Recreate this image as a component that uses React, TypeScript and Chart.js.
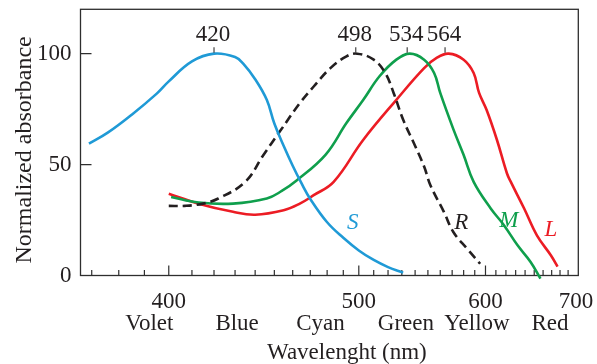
import React, { useEffect, useRef } from 'react';
import { Chart, registerables } from 'chart.js';

Chart.register(...registerables);

// ---- data (wavelength in nm, normalized absorbance) ----
const sWavelength = [369, 376, 385, 395, 400, 410, 420, 430, 434, 440, 446, 450, 455, 460, 465, 470, 480, 490, 500, 510, 520, 531];
const sAbsorbance = [59.4, 64.5, 72.5, 82.0, 87.5, 96.5, 100, 98.5, 95.5, 88.5, 79.2, 68.5, 58.5, 49.5, 41.5, 34.5, 24.0, 17.0, 11.3, 7.0, 3.8, 1.3];

const rWavelength = [400, 407, 415, 422, 435, 444, 453, 464, 472, 482, 492, 499, 510, 518, 524, 531, 539, 547, 552, 563, 571, 583, 595];
const rAbsorbance = [31.4, 31.4, 32.4, 34.7, 42.2, 54.0, 65.0, 77.7, 85.2, 93.5, 98.8, 100, 97.3, 91.3, 82.3, 70.2, 59.7, 49.1, 40.7, 28.7, 19.6, 12.1, 5.3];

const mWavelength = [401, 413, 429, 446, 454, 462, 479, 492, 503, 514, 526, 536, 547, 555, 560, 571, 580, 589, 605, 618, 632, 646, 657];
const mAbsorbance = [35.4, 32.9, 32.4, 34.7, 38.1, 42.7, 54.4, 68.7, 79.2, 89.8, 97.3, 100, 97.3, 91.3, 82.3, 66.0, 54.3, 42.2, 30.2, 22.7, 13.6, 6.1, -1.4];

const lWavelength = [400, 413, 429, 440, 455, 464, 472, 484, 503, 526, 547, 557, 567, 580, 589, 594, 601, 611, 621, 625, 639, 653, 669, 677];
const lAbsorbance = [36.9, 32.4, 28.7, 27.4, 29.4, 32.4, 36.2, 42.2, 61.2, 79.2, 93.5, 98.1, 100, 97.3, 91.3, 82.3, 74.7, 61.2, 46.1, 42.2, 30.2, 18.1, 9.1, 4.0];

// axis / annotation content
const xRangeNm = [366, 703];
const numberTickNm = [400, 500, 600, 700];
const minorTickNm = Array.from({ length: 33 }, (_, i) => 370 + i * 10);
const colourNames = ['Volet', 'Blue', 'Cyan', 'Green', 'Yellow', 'Red'];
const colourNm = [392, 431, 476, 533, 592, 668];
const yTicks = [0, 50, 100];
const peakNm = [420, 498, 534, 564];
const curveLetters = ['S', 'R', 'M', 'L'];
const letterNm = [496, 578, 623, 669];
const letterValue = [23.7, 23.7, 24.6, 20.5];
const xTitle = 'Wavelenght (nm)';
const yTitle = 'Normalized absorbance';

const BLUE = '#1f9ad6';
const BLACK = '#231f20';
const GREEN = '#0f9f4c';
const RED = '#ec1c24';
const letterColours = [BLUE, BLACK, GREEN, RED];
const TEXT = '#231f20';
const AXIS = '#2e2e2e';
const SERIF = "'Liberation Serif', 'Times New Roman', serif";

const inv = (nm: number) => 1000 / nm;
const toPoints = (w: number[], v: number[]) => w.map((nm, i) => ({ x: inv(nm), y: v[i] }));

const noPad = (s: any) => {
  s.paddingTop = 0;
  s.paddingBottom = 0;
  s.paddingLeft = 0;
  s.paddingRight = 0;
};

const overlay = {
  id: 'overlay',
  beforeDatasetsDraw(chart: any) {
    const { ctx, chartArea: a, scales } = chart;
    const xs = scales.x;
    const ys = scales.y;
    ctx.save();
    ctx.strokeStyle = AXIS;
    ctx.lineWidth = 1.3;
    ctx.strokeRect(a.left, a.top, a.right - a.left, a.bottom - a.top);
    ctx.lineWidth = 1.2;
    ctx.beginPath();
    minorTickNm.forEach((nm) => {
      const px = xs.getPixelForValue(inv(nm));
      const len = numberTickNm.includes(nm) ? 10 : 5.5;
      ctx.moveTo(px, a.bottom);
      ctx.lineTo(px, a.bottom - len);
    });
    yTicks.forEach((v) => {
      const py = ys.getPixelForValue(v);
      ctx.moveTo(a.left, py);
      ctx.lineTo(a.left + 11, py);
    });
    ctx.stroke();
    ctx.restore();
  },
  afterDraw(chart: any) {
    const { ctx, chartArea: a, scales } = chart;
    const xs = scales.x;
    const ys = scales.y;
    ctx.save();
    const y100 = ys.getPixelForValue(100);
    // peak markers & labels
    ctx.strokeStyle = '#444';
    ctx.lineWidth = 1.2;
    ctx.fillStyle = TEXT;
    ctx.font = `23px ${SERIF}`;
    ctx.textAlign = 'center';
    ctx.textBaseline = 'alphabetic';
    peakNm.forEach((nm) => {
      const px = xs.getPixelForValue(inv(nm));
      ctx.beginPath();
      ctx.moveTo(px, y100 - 6.5);
      ctx.lineTo(px, y100 - 1);
      ctx.stroke();
      ctx.fillText(String(nm), px - 1, y100 - 12.5);
    });
    // curve letters
    ctx.font = `italic 23px ${SERIF}`;
    ctx.textBaseline = 'middle';
    curveLetters.forEach((t, i) => {
      ctx.fillStyle = letterColours[i];
      ctx.fillText(t, xs.getPixelForValue(inv(letterNm[i])), ys.getPixelForValue(letterValue[i]));
    });
    // axis titles
    ctx.fillStyle = TEXT;
    ctx.font = `23px ${SERIF}`;
    ctx.textBaseline = 'alphabetic';
    ctx.fillText(xTitle, (a.left + a.right) / 2 + 17.5, 359);
    ctx.translate(31, (a.top + a.bottom) / 2 + 7.5);
    ctx.rotate(-Math.PI / 2);
    ctx.font = `24px ${SERIF}`;
    ctx.fillText(yTitle, 0, 0);
    ctx.restore();
  },
};

export default function App() {
  const ref = useRef<HTMLCanvasElement>(null);
  useEffect(() => {
    const lineDs = (label: string, w: number[], v: number[], color: string, dash: number[] = []) => ({
      label,
      data: toPoints(w, v),
      borderColor: color,
      borderWidth: 2.6,
      borderDash: dash,
      pointRadius: 0,
      fill: false,
      clip: false,
      tension: 0.4,
      xAxisID: 'x',
      yAxisID: 'y',
    });
    const tickFont = { family: SERIF, size: 23 };
    const chart = new Chart(ref.current as HTMLCanvasElement, {
      type: 'line',
      data: {
        datasets: [
          lineDs('S', sWavelength, sAbsorbance, BLUE),
          lineDs('R', rWavelength, rAbsorbance, BLACK, [9, 5]),
          lineDs('M', mWavelength, mAbsorbance, GREEN),
          lineDs('L', lWavelength, lAbsorbance, RED),
        ],
      },
      options: {
        animation: false,
        responsive: false,
        maintainAspectRatio: false,
        layout: { padding: { left: 0, right: 18.7, top: 9.3, bottom: 0 } },
        plugins: { legend: { display: false }, tooltip: { enabled: false } },
        scales: {
          x: {
            type: 'linear',
            position: 'bottom',
            weight: 1,
            reverse: true,
            min: inv(xRangeNm[1]),
            max: inv(xRangeNm[0]),
            grid: { display: false, drawTicks: false },
            border: { display: false },
            afterFit: (s: any) => { s.height = 34; noPad(s); },
            afterBuildTicks: (s: any) => { s.ticks = numberTickNm.map((nm) => ({ value: inv(nm) })); },
            ticks: {
              autoSkip: false,
              maxRotation: 0,
              padding: 13,
              color: TEXT,
              font: tickFont,
              callback: (_v: any, i: number) => String(numberTickNm[i]),
            },
          },
          x2: {
            type: 'linear',
            position: 'bottom',
            weight: 2,
            reverse: true,
            min: inv(xRangeNm[1]),
            max: inv(xRangeNm[0]),
            grid: { display: false, drawTicks: false },
            border: { display: false },
            afterFit: (s: any) => { s.height = 54.5; noPad(s); },
            afterBuildTicks: (s: any) => { s.ticks = colourNm.map((nm) => ({ value: inv(nm) })); },
            ticks: {
              autoSkip: false,
              maxRotation: 0,
              padding: 1,
              color: TEXT,
              font: tickFont,
              callback: (_v: any, i: number) => colourNames[i],
            },
          },
          y: {
            type: 'linear',
            min: 0,
            max: 120,
            grid: { display: false, drawTicks: false },
            border: { display: false },
            afterFit: (s: any) => { s.width = 80.5; noPad(s); },
            afterBuildTicks: (s: any) => { s.ticks = yTicks.map((v) => ({ value: v })); },
            ticks: { padding: 9, color: TEXT, font: tickFont },
          },
        },
      },
      plugins: [overlay],
    } as any);
    return () => chart.destroy();
  }, []);
  return (
    <div style={{ position: 'fixed', left: 0, top: 0, width: 597, height: 364, background: '#fff' }}>
      <canvas ref={ref} width={597} height={364} style={{ display: 'block', width: 597, height: 364 }} />
    </div>
  );
}
